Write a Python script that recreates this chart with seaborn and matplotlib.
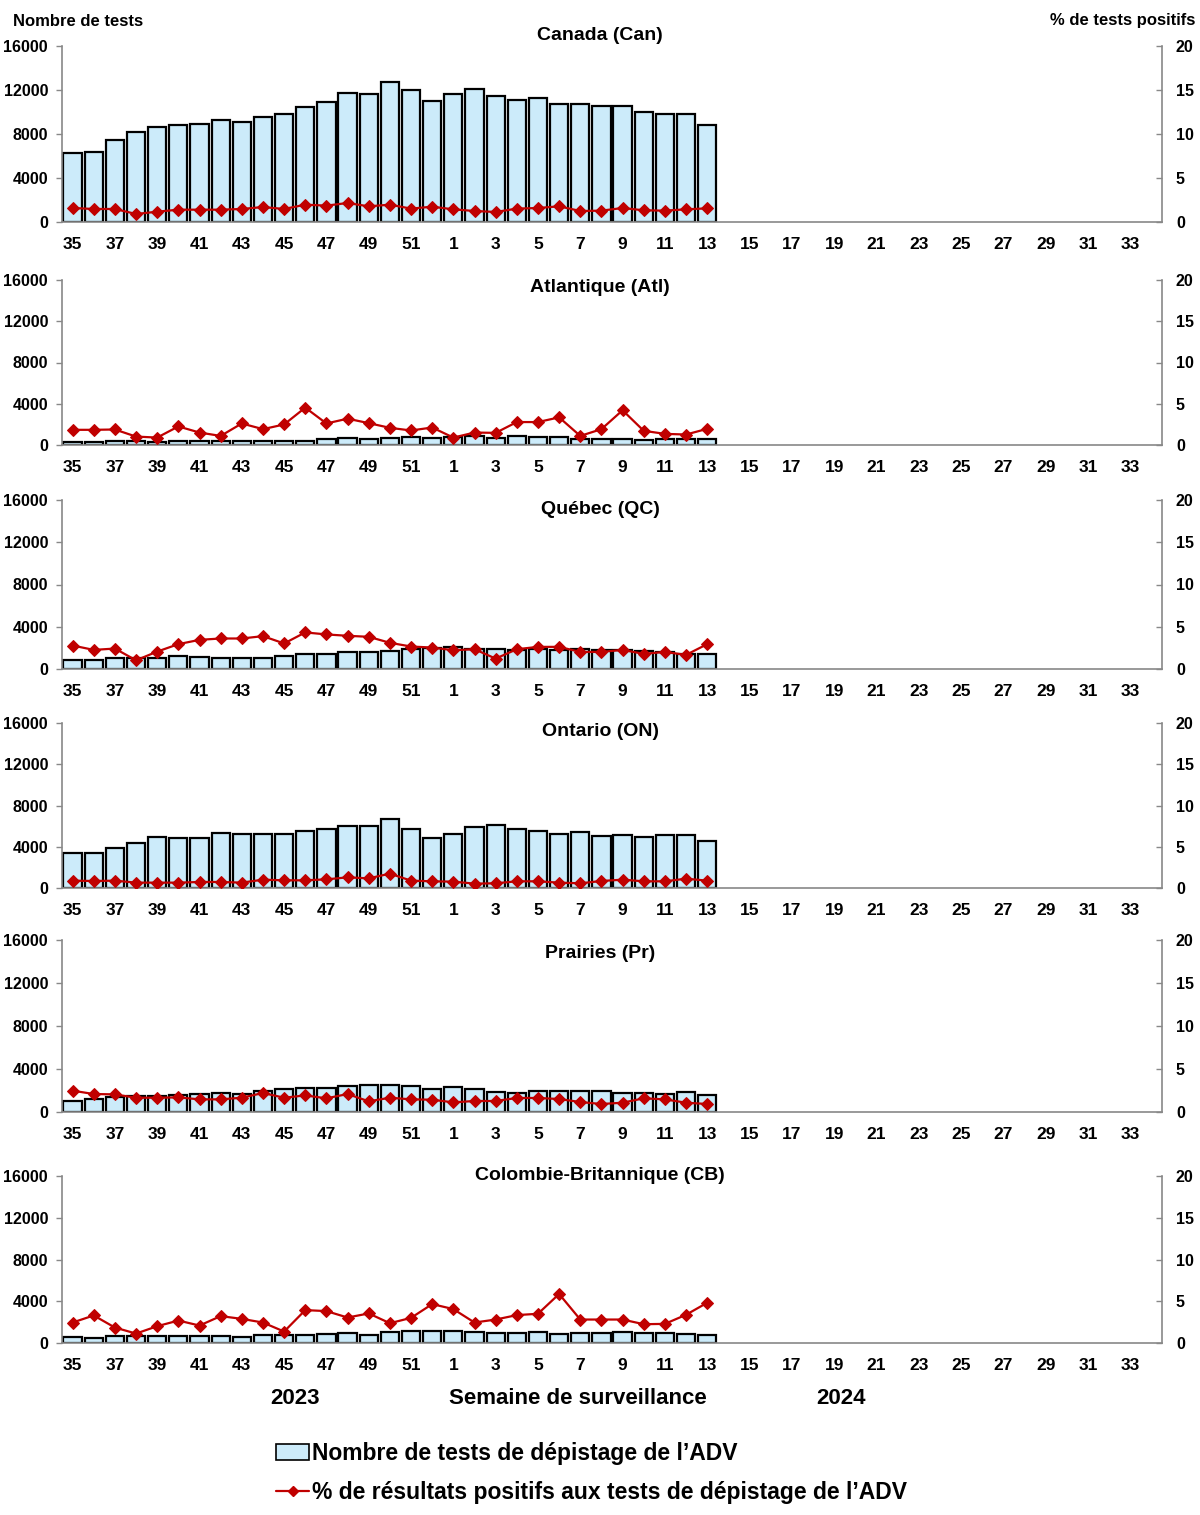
import matplotlib
matplotlib.use("Agg")
import matplotlib.pyplot as plt
from matplotlib.lines import Line2D
from matplotlib.patches import Patch
import numpy as np
import pandas as pd
import seaborn as sns

# Semaines de surveillance 2023-2024 (35 à 52, puis 1 à 34)
semaines = [str(s) for s in list(range(35, 53)) + list(range(1, 35))]
semaines_donnees = [str(s) for s in list(range(35, 53)) + list(range(1, 14))]

regions = ["Canada (Can)", "Atlantique (Atl)", "Québec (QC)", "Ontario (ON)",
           "Prairies (Pr)", "Colombie-Britannique (CB)"]

# Nombre de tests par semaine
tests_can = [6250, 6330, 7450, 8150, 8640, 8820, 8910, 9300, 9090, 9550, 9850, 10450, 10900,
             11730, 11670, 12730, 12030, 10970, 11670, 12090, 11480, 11060, 11240, 10760,
             10760, 10520, 10520, 9970, 9790, 9790, 8850]
tests_atl = [330, 260, 360, 360, 330, 420, 420, 420, 420, 420, 420, 420, 590, 650, 620, 720,
             750, 650, 780, 915, 650, 850, 780, 780, 620, 620, 555, 460, 590, 555, 555]
tests_qc = [830, 860, 1080, 1080, 1080, 1210, 1140, 1020, 1050, 1050, 1270, 1400, 1460, 1590,
            1620, 1680, 1870, 2030, 2100, 1940, 1870, 1840, 1870, 1840, 1870, 1840, 1810,
            1710, 1590, 1400, 1430]
tests_on = [3430, 3430, 3880, 4370, 4920, 4820, 4890, 5340, 5240, 5240, 5240, 5530, 5730, 5990,
            6050, 6730, 5700, 4850, 5280, 5920, 6150, 5700, 5570, 5210, 5400, 5080, 5180,
            4950, 5110, 5110, 4600]
tests_pr = [1020, 1180, 1360, 1520, 1490, 1550, 1670, 1760, 1670, 1980, 2110, 2230, 2200, 2450,
            2540, 2480, 2410, 2170, 2290, 2140, 1860, 1760, 1980, 1980, 1920, 1950, 1800,
            1800, 1670, 1860, 1550]
tests_cb = [610, 480, 710, 710, 710, 710, 710, 710, 610, 740, 740, 800, 900, 960, 740, 1060,
            1130, 1130, 1190, 1090, 960, 960, 1030, 900, 960, 960, 1060, 960, 960, 900, 740]

# % de tests positifs
pos_can = [1.59, 1.48, 1.48, 0.91, 1.17, 1.40, 1.40, 1.40, 1.48, 1.70, 1.48, 1.97, 1.86, 2.16,
           1.78, 1.97, 1.52, 1.74, 1.44, 1.25, 1.14, 1.52, 1.59, 1.78, 1.25, 1.29, 1.59, 1.33,
           1.29, 1.44, 1.55]
pos_atl = [1.84, 1.84, 1.88, 1.02, 0.90, 2.25, 1.51, 1.10, 2.61, 1.92, 2.49, 4.53, 2.61, 3.19,
           2.65, 2.08, 1.76, 2.12, 0.90, 1.51, 1.47, 2.78, 2.78, 3.35, 1.10, 1.92, 4.21, 1.72,
           1.35, 1.27, 1.96]
pos_qc = [2.78, 2.26, 2.42, 1.03, 2.06, 2.94, 3.45, 3.61, 3.61, 3.89, 3.02, 4.33, 4.09, 3.93,
          3.81, 3.10, 2.66, 2.54, 2.22, 2.34, 1.23, 2.34, 2.62, 2.62, 2.02, 2.02, 2.26, 1.79,
          2.02, 1.67, 2.94]
pos_on = [0.89, 0.85, 0.89, 0.65, 0.65, 0.65, 0.73, 0.73, 0.65, 1.01, 0.93, 0.93, 1.05, 1.29,
          1.17, 1.74, 0.89, 0.81, 0.77, 0.53, 0.57, 0.81, 0.81, 0.65, 0.57, 0.85, 1.01, 0.81,
          0.81, 1.13, 0.89]
pos_pr = [2.48, 2.09, 2.05, 1.66, 1.66, 1.70, 1.47, 1.47, 1.66, 2.21, 1.66, 1.93, 1.59, 2.09,
          1.24, 1.66, 1.47, 1.43, 1.12, 1.28, 1.28, 1.63, 1.63, 1.51, 1.16, 0.93, 1.08, 1.59,
          1.47, 1.08, 0.93]
pos_cb = [2.45, 3.30, 1.85, 1.13, 2.01, 2.69, 2.09, 3.22, 2.89, 2.45, 1.37, 3.94, 3.82, 3.05,
          3.54, 2.37, 3.01, 4.66, 4.06, 2.45, 2.81, 3.34, 3.50, 5.87, 2.81, 2.81, 2.81, 2.25,
          2.29, 3.38, 4.82]

tests = [tests_can, tests_atl, tests_qc, tests_on, tests_pr, tests_cb]
positifs = [pos_can, pos_atl, pos_qc, pos_on, pos_pr, pos_cb]

# position des panneaux (haut, bas) en pixels
panneaux = [(46, 222), (280, 445), (500, 669), (723, 888), (940, 1112), (1176, 1343)]
titres_y = [36, 287, 509, 731, 953, 1175]

bleu = "#CCEBFA"
rouge = "#C00000"
gris = "#888888"

sns.set_style("white")
plt.rcParams["font.family"] = ["Liberation Sans", "DejaVu Sans"]
plt.rcParams["font.weight"] = "bold"
plt.rcParams["text.color"] = "black"
plt.rcParams["xtick.labelcolor"] = "black"
plt.rcParams["ytick.labelcolor"] = "black"

W, H = 1200, 1515
fig = plt.figure(figsize=(12, 15.15), dpi=100)

for i, region in enumerate(regions):
    haut, bas = panneaux[i]
    ax = fig.add_axes([62 / W, 1 - bas / H, 1100 / W, (bas - haut) / H])

    df = pd.DataFrame({"semaine": semaines_donnees, "tests": tests[i]})
    sns.barplot(data=df, x="semaine", y="tests", order=semaines, color=bleu,
                edgecolor="black", linewidth=1.6, width=0.86, saturation=1, ax=ax)

    ax2 = ax.twinx()
    pos_x = [semaines.index(s) for s in semaines_donnees]
    sns.lineplot(x=pos_x, y=positifs[i], ax=ax2, color=rouge, linewidth=1.6,
                 marker="D", markersize=6, markeredgecolor=rouge)

    ax.set_xlim(-0.5, len(semaines) - 0.5)
    ax.set_ylim(0, 16000)
    ax2.set_ylim(0, 20)
    ax.set_yticks([0, 4000, 8000, 12000, 16000])
    ax2.set_yticks([0, 5, 10, 15, 20])
    ax.set_xlabel("")
    ax.set_ylabel("")

    ax.set_xticks(np.arange(0, len(semaines), 2))
    ax.set_xticklabels(semaines[::2])
    ax.set_xticks(np.arange(-0.5, len(semaines), 1), minor=True)
    ax.tick_params(axis="x", which="major", length=0, pad=11, labelsize=12.5,
                   labelcolor="black")
    ax.tick_params(axis="x", which="minor", length=7, direction="inout", color=gris, width=1)
    ax.tick_params(axis="y", length=4, color=gris, width=1, labelsize=11.5, pad=6,
                   labelcolor="black")
    ax2.tick_params(axis="y", length=4, direction="in", color=gris, width=1, labelsize=11.5,
                    pad=10, labelcolor="black")
    for lab in ax.get_xticklabels() + ax.get_yticklabels() + ax2.get_yticklabels():
        lab.set_fontweight("bold")

    for a in (ax, ax2):
        a.spines["top"].set_visible(False)
        for s in ("left", "right", "bottom"):
            a.spines[s].set_color(gris)
            a.spines[s].set_linewidth(1.2)
    ax.spines["right"].set_visible(False)
    ax2.spines["left"].set_visible(False)
    ax2.spines["bottom"].set_visible(False)
    ax.grid(False)
    ax2.grid(False)

    fig.text(600 / W, 1 - titres_y[i] / H, region, ha="center", va="center",
             fontsize=14, fontweight="bold", color="black")

fig.text(13 / W, 1 - 22 / H, "Nombre de tests", ha="left", va="center",
         fontsize=12, fontweight="bold", color="black")
fig.text(1195 / W, 1 - 21 / H, "% de tests positifs", ha="right", va="center",
         fontsize=12, fontweight="bold", color="black")

fig.text(295 / W, 1 - 1398 / H, "2023", ha="center", va="center", fontsize=16,
         fontweight="bold", color="black")
fig.text(578 / W, 1 - 1398 / H, "Semaine de surveillance", ha="center", va="center",
         fontsize=16, fontweight="bold", color="black")
fig.text(841 / W, 1 - 1398 / H, "2024", ha="center", va="center", fontsize=16,
         fontweight="bold", color="black")

poignees = [
    Patch(facecolor=bleu, edgecolor="black", linewidth=1.2),
    Line2D([0], [0], color=rouge, linewidth=1.6, marker="D", markersize=5),
]
noms = ["Nombre de tests de dépistage de l’ADV",
        "% de résultats positifs aux tests de dépistage de l’ADV"]
leg = fig.legend(poignees, noms, loc="upper left", bbox_to_anchor=(267 / W, 1 - 1433 / H),
                 frameon=False, fontsize=16.5, handlelength=1.45, handletextpad=0.12,
                 labelspacing=0.7, borderaxespad=0)
for t in leg.get_texts():
    t.set_fontweight("bold")
    t.set_color("black")

fig.savefig("out.png", dpi=100)
